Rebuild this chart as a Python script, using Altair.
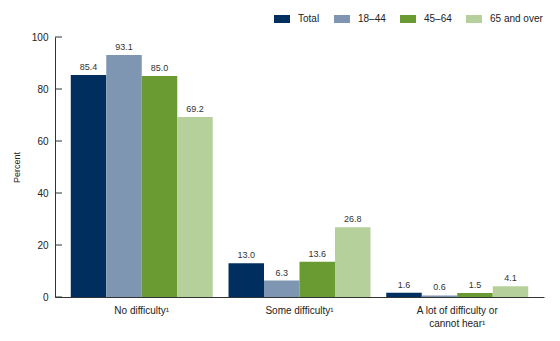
import altair as alt
import pandas as pd

categories = ["No difficulty¹", "Some difficulty¹", "A lot of difficulty or|cannot hear¹"]
groups = ["Total", "18–44", "45–64", "65 and over"]
values = {
    "Total": [85.4, 13.0, 1.6],
    "18–44": [93.1, 6.3, 0.6],
    "45–64": [85.0, 13.6, 1.5],
    "65 and over": [69.2, 26.8, 4.1],
}
colors = ["#002F5F", "#7F96B2", "#6A9A32", "#B5D09A"]
y_ticks = [0, 20, 40, 60, 80, 100]

rows = []
for g in groups:
    for c, v in zip(categories, values[g]):
        rows.append({"category": c, "group": g, "value": v, "label": f"{v:.1f}"})
df = pd.DataFrame(rows)
ticks_df = pd.DataFrame({"t": y_ticks})

font = "Liberation Sans"
yscale = alt.Scale(domain=[0, 100])

base = alt.Chart(df).encode(
    x=alt.X("category:N", sort=categories,
            scale=alt.Scale(paddingInner=0.1, paddingOuter=0.1),
            axis=alt.Axis(title=None, labelAngle=0, ticks=False,
                          labelExpr="split(datum.label, '|')",
                          labelFont=font, labelFontSize=10, labelColor="#222",
                          labelPadding=8, domainColor="#333", labelLineHeight=13)),
    xOffset=alt.XOffset("group:N", sort=groups),
)

bars = base.mark_bar().encode(
    y=alt.Y("value:Q", scale=yscale,
            axis=alt.Axis(title="Percent", values=y_ticks, ticks=False,
                          grid=False, titleFont=font, titleFontSize=9,
                          titleFontWeight="normal", titleColor="#222", titlePadding=10,
                          labelFont=font, labelFontSize=10, labelColor="#222",
                          labelPadding=7, domainColor="#333")),
    color=alt.Color("group:N", sort=groups,
                    scale=alt.Scale(domain=groups, range=colors),
                    legend=alt.Legend(title=None, orient="none", direction="horizontal",
                                      legendX=219, legendY=-26,
                                      symbolType="M-1,-0.5H1V0.5H-1Z", symbolSize=256,
                                      symbolStrokeWidth=0, symbolOpacity=1,
                                      labelFont=font, labelFontSize=10, labelColor="#222",
                                      columnPadding=14, labelOffset=8)),
)

text = base.mark_text(dy=-8, font=font, fontSize=9, color="#333").encode(
    y=alt.Y("value:Q", scale=yscale),
    text="label:N",
)

tick_marks = alt.Chart(ticks_df).mark_rule(color="#333", strokeWidth=1).encode(
    y=alt.Y("t:Q", scale=yscale),
    x=alt.value(0),
    x2=alt.value(7),
)

chart = alt.layer(bars, text, tick_marks).properties(
    width=489, height=260,
    autosize=alt.AutoSizeParams(type="none"),
    padding={"left": 55, "top": 37, "right": 16, "bottom": 44},
).configure_view(stroke=None)

chart.save("out.html", embed_options={"renderer": "svg", "actions": False})
